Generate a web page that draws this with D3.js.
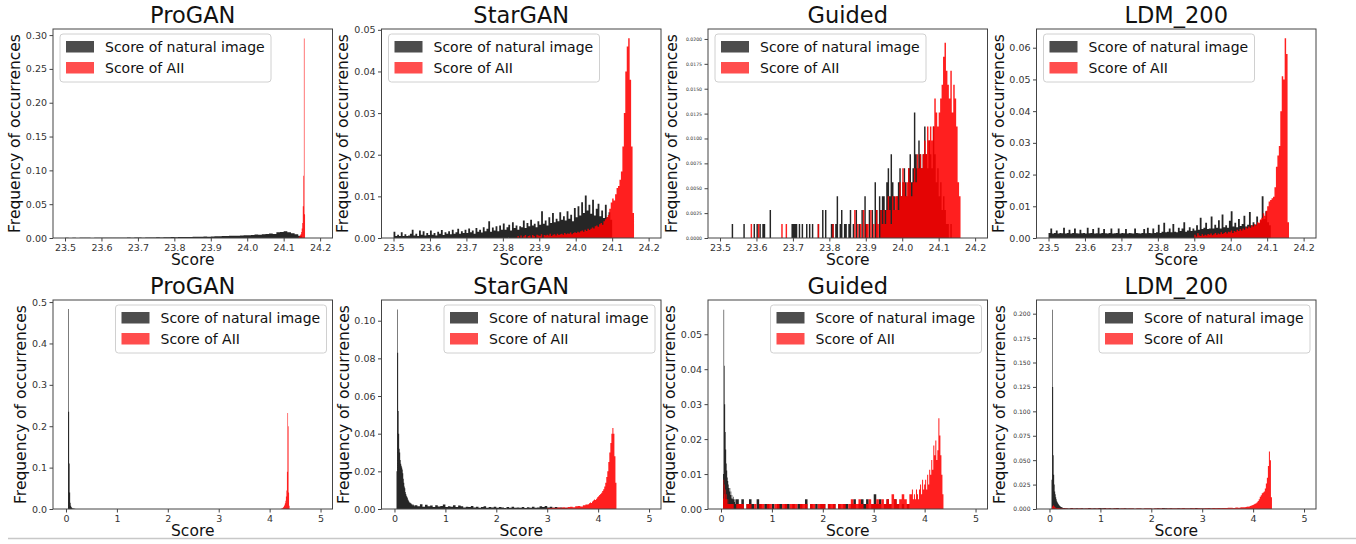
<!DOCTYPE html>
<html><head><meta charset="utf-8">
<script src="https://cdn.jsdelivr.net/npm/d3@7"></script>
<style>body{margin:0;background:#fff}svg{display:block}text{font-family:"DejaVu Sans",sans-serif}</style>
</head><body><svg id="c" width="1356" height="544"></svg>
<script>
// ---------------- DATA ----------------
const panelTitles = ["ProGAN","StarGAN","Guided","LDM_200","ProGAN","StarGAN","Guided","LDM_200"];
const legendLabels = ["Score of natural image","Score of AII"];
const xLabel = "Score";
const yLabel = "Frequency of occurrences";
const topXTicks = [23.5,23.6,23.7,23.8,23.9,24.0,24.1,24.2];
const bottomXTicks = [0,1,2,3,4,5];
const yTicksProganTop = [0,0.05,0.10,0.15,0.20,0.25,0.30];
const yTicksStarganTop = [0,0.01,0.02,0.03,0.04,0.05];
const yTicksGuidedTop = [0,0.0025,0.005,0.0075,0.01,0.0125,0.015,0.0175,0.02];
const yTicksLdmTop = [0,0.01,0.02,0.03,0.04,0.05,0.06];
const yTicksProganBottom = [0,0.1,0.2,0.3,0.4,0.5];
const yTicksStarganBottom = [0,0.02,0.04,0.06,0.08,0.10];
const yTicksGuidedBottom = [0,0.01,0.02,0.03,0.04,0.05];
const yTicksLdmBottom = [0,0.025,0.05,0.075,0.1,0.125,0.15,0.175,0.2];

// histogram bins: frequencies in per-mille (‰) unless stated
const proganTopNatural = [{start:23.50,width:0.01,values:[
0.3,0,0.4,0,0.3,0.2,0.4,0,0.3,0.4,
0.2,0.4,0.3,0.5,0.2,0.4,0.5,0.6,0.4,0.6,
0.7,0.5,0.7,0.9,0.8,1.0,0.9,1.1,1.0,1.3,
1.2,1.5,1.3,1.6,1.5,1.8,1.7,2.0,2.2,2.0,
2.4,2.6,2.5,2.9,2.8,3.2,3.4,3.3,3.8,4.0,
4.2,4.6,5.0,4.8,5.6,6.0,6.6,6.0,8.5,9.0,
10.0,8.5,7.0,5.5,3.5]}];
const proganTopAI = [{start:24.1405,width:0.0015,values:[1,2,3,4,6,9,14,22,47,92,295,35]}];

const starganTopNatural = [{start:23.50,width:0.005,values:[
1.5,0.5,0.8,0.5,1.4,0.5,0.9,0.5,0.6,1.0,
2.0,0.6,1.0,0.5,1.8,0.8,1.6,0.6,1.2,0.7,
1.8,0.8,1.2,0.6,1.5,1.0,1.9,0.7,1.4,1.0,
1.6,0.9,2.0,1.0,1.4,2.2,1.0,1.6,1.2,2.0,
1.2,2.3,1.4,1.8,1.0,2.4,1.5,2.0,1.3,2.6,
1.6,2.2,4.0,1.5,2.5,1.8,2.8,1.6,3.0,2.0,
3.5,2.0,2.6,3.2,1.8,3.8,2.4,3.0,2.0,2.8,
2.6,4.2,2.4,3.6,2.8,4.4,3.0,3.4,2.6,4.0,
3.2,6.4,3.4,4.2,3.0,5.0,3.6,6.0,3.8,4.6,
4.0,6.2,4.4,5.2,4.2,6.4,4.6,5.6,4.0,7.2,
5.0,7.6,5.4,8.6,6.0,10.2,6.6,8.0,5.8,9.2,
5.4,7.0,8.2,5.2,6.6,4.8,8.0,5.0,6.2,4.4]}];
const starganTopAI = [{start:23.84,width:0.004,values:[
0.5,0,0.6,0,0.4,0.7,0,0.5,0.6,0,
0.7,0.5,0,0.8,0.6,0.5,0.9,0,0.7,0.6,
0.8,0.6,1.0,0.5,0.8,0.9,0.6,1.0,0.7,0.9,
1.0,0.8,1.2,0.9,1.1,1.0,1.3,0.9,1.2,1.4,
1.2,1.5,1.3,1.6,1.8,1.5,2.0,1.7,2.2,1.9,
2.2,2.5,2.3,2.8,3.0,2.7,3.3,3.6,3.2,4.0,
4.5,5.0,5.5,7.0,8.5,9.5,9.0,10.5,12.0,12.5,
14,16,22,30,40,46,48,38,22,6]}];

// Guided (top row): raw counts, frequency = count / guidedTopTotal
const guidedTopTotal = 714;
const guidedTopNaturalCounts = [{start:23.52,width:0.004,values:[
0,0,0,1,0,0,0,0,0,0,
0,1,0,0,0,0,0,0,1,0,
1,0,1,0,1,1,0,0,0,2,
0,0,0,0,0,0,0,0,0,0,
0,0,0,0,1,1,1,1,0,1,
0,1,0,0,1,0,1,0,1,0,
0,0,1,0,0,2,0,2,0,0,
0,1,1,0,1,3,0,1,2,0,
1,1,0,1,2,0,1,0,2,0,
1,0,2,0,3,1,0,2,0,2,
0,4,2,0,3,2,3,3,2,4,
5,3,6,4,3,2,3,4,5,3,
4,5,4,3,5,6,4,5,9,6,
5,7,6,5,6,8,6,5,7,6,
5,8,6,4,5,3,4,2,3,2,
1,1,0,1,0,0,0,0,0,0]}];
const guidedTopAICounts = [{start:23.52,width:0.004,values:[
0,0,0,0,0,0,0,0,0,0,
0,0,0,0,0,0,1,0,0,0,
0,1,0,0,0,0,0,0,0,0,
0,0,0,0,0,0,0,1,0,0,
1,0,0,0,0,0,0,0,0,0,
0,0,0,0,0,0,0,0,0,0,
0,0,1,0,0,0,0,0,0,0,
0,0,1,0,0,0,0,0,0,0,
0,0,0,0,0,0,0,2,0,1,
0,1,0,2,0,1,1,0,2,0,
1,0,2,1,0,2,1,2,1,2,
3,2,1,3,2,3,3,2,4,3,
5,4,3,4,5,4,3,4,5,4,
6,5,6,5,6,7,6,8,7,8,
7,8,10,9,8,9,10,11,13,14,
12,11,10,12,9,11,10,8,4,3]}];

const ldmTopNatural = [{start:23.50,width:0.005,values:[
1.6,3.0,1.4,1.6,2.4,1.4,1.6,1.5,3.2,1.4,
1.6,2.6,1.4,1.6,3.0,1.5,1.4,2.6,1.5,1.6,
1.4,3.2,1.5,1.6,2.8,1.4,1.5,3.2,1.4,1.6,
2.8,1.5,1.4,1.6,3.0,1.4,1.5,1.6,3.0,1.4,
1.6,1.5,2.8,1.4,1.6,1.5,1.4,3.0,1.6,1.5,
1.4,1.6,2.8,1.5,3.2,1.6,1.5,3.0,1.6,1.8,
4.2,1.6,2.0,4.8,1.8,2.0,3.0,1.8,4.4,2.0,
1.8,3.2,2.2,3.0,5.0,2.0,2.4,3.4,2.2,3.0,
2.4,4.0,2.6,6.4,2.8,3.2,4.8,2.8,3.0,6.8,
3.0,4.2,3.2,5.6,3.0,7.4,3.4,4.0,3.2,5.4,
8.4,3.6,4.8,3.4,6.0,3.8,4.4,7.0,3.6,4.2,
8.2,4.0,5.0,4.2,6.8,4.6,5.6,13.2,6.0,8.4,
5.0,4.0]}];
const ldmTopAI = [{start:23.90,width:0.004,values:[
1.0,0.5,1.5,0.8,0.6,1.2,0.7,1.0,0.8,1.3,
1.0,1.4,0.9,1.2,1.6,1.0,1.4,1.2,1.8,1.3,
1.6,1.9,1.4,2.0,1.8,2.4,1.6,2.2,2.0,2.6,
2.2,2.8,2.4,3.0,2.6,3.4,3.0,3.6,3.2,4.0,
3.6,4.4,4.0,5.0,4.8,5.8,6.4,7.8,7.0,8.6,
10.0,11.5,12.0,12.5,13.0,16,22.5,26,29,40,
51,50,63,58,5]}];

const proganBottomNatural = [{start:0.03,width:0.01,values:[0,483,235,110,40,15,8,5,3,2,1.5,1,1,0.5,0.5]}];
const proganBottomAI = [{start:4.22,width:0.01,values:[0.5,1,1.5,2.5,3.5,5,7,10,14,20,30,45,90,232,200,40,8]}];

const starganBottomNatural = [
 {start:0.04,width:0.01,values:[20,106,83,52,40,32,30,26,24,23,22,21,19,16,14,12,11,9,8,7,6.5,6,5,4.5,4,3.5,3.5,3,3,2.5,2.5,2,2.5,2,2,1.5]},
 {start:0.40,width:0.05,values:[
 2.0,1.5,2.5,1.2,2.2,1.4,1.8,1.0,2.0,1.3,
 1.6,2.4,1.0,1.5,1.2,2.0,1.0,1.8,1.4,0.8,
 1.2,1.0,1.6,0.8,1.2,0.6,1.0,1.4,0.7,1.0,
 0.8,1.2,0.6,1.0,0.8,0.5,1.0,0.7,1.2,0.6,
 0.8,0.6,1.0,0.5,0.9,0.7,1.2,0.6,0.8,1.4,
 1.0,1.6,0.8,1.2,0.7,1.0,0.6,0.8,0.5,0.6]}];
const starganBottomAI = [
 {start:3.0,width:0.05,values:[0.4,0.5,0.6,0.5,0.8,0.6,0.9,0.7,1.0,1.2,0.9,1.4,1.6,1.3,2.0,2.4]},
 {start:3.8,width:0.02,values:[2.5,3.0,3.5,3.2,4.0,4.5,5.0,4.8,5.5,6.2,6.8,7.5,8.0,8.6,9.5,10.5,12,14,17,20,25,30,35,40,43,40,28,14]}];

const guidedBottomNatural = [
 {start:0.04,width:0.01,values:[10,57,41,30,22,17,13,11,9,8,7,6,5,6,4,5,3,4,3,2.8,3.5,2.8,2,2.8,1.4,2.8]},
 {start:0.30,width:0.05,values:[
 2.8,1.4,2.8,0,1.4,2.8,1.4,0,2.8,1.4,
 0,1.4,1.4,0,1.4,0,1.4,1.4,0,1.4,
 1.4,0,1.4,0,1.4,1.4,0,2.8,0,1.4,
 0,1.4,0,1.4,1.4,0,1.4,0,1.4,0,
 1.4,0,1.4,1.4,0,1.4,2.8,0,1.4,2.8,
 1.4,2.8,0,1.4,4.2,1.4,2.8,0,1.4,2.8,
 1.4,0,2.8,1.4,0,1.4,0,1.4]}];
const guidedBottomAI = [
 {start:0.04,width:0.01,values:[3,8.4,7,4.2,5.6,2.8,4.2,2.8,1.4,2.8,1.4]},
 {start:0.15,width:0.05,values:[
 1.4,1.4,0,1.4,1.4,1.4,0,1.4,1.4,0,
 1.4,0,1.4,1.4,0,1.4,1.4,0,1.4,1.4,
 0,1.4,1.4,0,1.4,1.4,1.4,0,1.4,1.4,
 1.4,0,1.4,1.4,0,1.4,1.4,1.4,0,1.4,
 1.4,1.4,0,1.4,1.4,1.4,0,1.4,2.8,1.4,
 1.4,2.8,1.4,0,1.4,2.8,1.4,1.4,2.8,1.4,
 2.8,1.4,2.8,1.4,4.2,2.8,1.4,2.8,4.2,2.8,1.4,4.2]},
 {start:3.75,width:0.02,values:[5.6,2.8,4.2,2.8,5.6,4.2,2.8,5.6,7,4.2,8.4,5.6,7,8.4,5.6,9.8,7,11.2,9.8,14,11.2,18.2,15.4,19.6,14,16.8,26,21,15.4,9.8,4.2]}];

const ldmBottomNatural = [
 {start:0.04,width:0.01,values:[30,204,125,55,35,25,18,15,12,10,8,7,6,5,4,3.5,3,2.5,2,2,1.5,1.5]},
 {start:0.26,width:0.05,values:[
 1.0,0.8,0.6,0.9,0.5,0.7,0.6,0.8,0.5,0.6,
 1.0,0.6,0.8,0.5,0.9,0.7,1.0,0.6,0.8,0.5,
 0.8,1.0,0.6,0.5,0.7,0.4,0.6,0.5,0.3,0.5,
 0.4,0.3,0.6,0.4,0.5,0.3,0.6,0.8,0.5,0.9,
 0.7,0.5,0.8,0.6,0.4,0.7,0.5,0.8,0.6,0.4,
 0.7,0.5,0.9,0.6,0.4,0.6,0.5,0.8,0.4,0.6,
 0.5,0.4,0.6,0.3]}];
const ldmBottomAI = [
 {start:0.05,width:0.01,values:[2,3,4,3,2.5,2,1.5,1.2,1,0.8]},
 {start:0.15,width:0.05,values:[
 1.0,0.6,0.4,0.5,0.3,0.6,0.4,0.3,0.5,0.4,
 0.3,0.5,0.4,0.6,0.3,0.4,0.5,0.3,0.6,0.4,
 0.5,0.3,0.4,0.6,0.3,0.5,0.4,0.3,0.5,0.4,
 0.3,0.5,0.4,0.3,0.6,0.4,0.5,0.3,0.4,0.6,
 0.4,0.5,0.3,0.6,0.5,0.4,0.6,0.5,0.4,0.7,
 0.5,0.6,0.4,0.7,0.5,0.8,0.6,0.5,0.8,0.7,
 0.6,0.9,0.7,1.0,0.8,1.1,0.9,1.2,1.3,1.1,1.5,1.4,1.7,1.9]},
 {start:3.85,width:0.02,values:[2.0,2.3,2.6,2.4,3.0,3.3,3.8,4.2,4.8,5.5,6.0,7.0,8.2,10,12.5,14,16,17,18,21,26,32,44,59,50,12]}];

// ---------------- LAYOUT ----------------
const PER_MILLE = 0.001;
const W = 279.5, H = 209;
const colLeft = [53, 381.5, 708, 1036.5];
const rowTop = [29, 300];
const topXDomain = [23.467, 24.234];
const bottomXDomain = [-0.255, 5.235];

const panels = [
 {title:0,row:0,col:0,xd:topXDomain,xt:topXTicks,xf:".1f",yMax:0.309,yt:yTicksProganTop,yf:".2f",yfs:9.5,yl:33.5,leg:"left",
  nat:proganTopNatural,ai:proganTopAI,k1:PER_MILLE,k2:PER_MILLE},
 {title:1,row:0,col:1,xd:topXDomain,xt:topXTicks,xf:".1f",yMax:0.0502,yt:yTicksStarganTop,yf:".2f",yfs:9.5,yl:34,leg:"left",
  nat:starganTopNatural,ai:starganTopAI,k1:PER_MILLE,k2:PER_MILLE},
 {title:2,row:0,col:2,xd:topXDomain,xt:topXTicks,xf:".1f",yMax:0.021,yt:yTicksGuidedTop,yf:".4f",yfs:4.6,yl:31.5,leg:"left",
  nat:guidedTopNaturalCounts,ai:guidedTopAICounts,k1:1/guidedTopTotal,k2:1/guidedTopTotal},
 {title:3,row:0,col:3,xd:topXDomain,xt:topXTicks,xf:".1f",yMax:0.0659,yt:yTicksLdmTop,yf:".2f",yfs:9.5,yl:33,leg:"left",
  nat:ldmTopNatural,ai:ldmTopAI,k1:PER_MILLE,k2:PER_MILLE},
 {title:4,row:1,col:0,xd:bottomXDomain,xt:bottomXTicks,xf:"d",yMax:0.505,yt:yTicksProganBottom,yf:".1f",yfs:9.5,yl:27.5,leg:"right",
  nat:proganBottomNatural,ai:proganBottomAI,k1:PER_MILLE,k2:PER_MILLE},
 {title:5,row:1,col:1,xd:bottomXDomain,xt:bottomXTicks,xf:"d",yMax:0.111,yt:yTicksStarganBottom,yf:".2f",yfs:9.5,yl:33,leg:"right",
  nat:starganBottomNatural,ai:starganBottomAI,k1:PER_MILLE,k2:PER_MILLE},
 {title:6,row:1,col:2,xd:bottomXDomain,xt:bottomXTicks,xf:"d",yMax:0.0598,yt:yTicksGuidedBottom,yf:".2f",yfs:9.5,yl:33.5,leg:"right",
  nat:guidedBottomNatural,ai:guidedBottomAI,k1:PER_MILLE,k2:PER_MILLE},
 {title:7,row:1,col:3,xd:bottomXDomain,xt:bottomXTicks,xf:"d",yMax:0.214,yt:yTicksLdmBottom,yf:".3f",yfs:6,yl:32,leg:"right",
  nat:ldmBottomNatural,ai:ldmBottomAI,k1:PER_MILLE,k2:PER_MILLE}
];

function toBins(segments, k){
  const out = [];
  segments.forEach(s => s.values.forEach((v,i) => {
    if (v > 0) out.push({x0: s.start + i*s.width, x1: s.start + (i+1)*s.width, y: v*k});
  }));
  return out;
}

const svg = d3.select("#c");
svg.append("rect").attr("width",1356).attr("height",544).attr("fill","#fff");

panels.forEach(p => {
  const left = colLeft[p.col], top = rowTop[p.row];
  const x = d3.scaleLinear().domain(p.xd).range([left, left+W]);
  const y = d3.scaleLinear().domain([0, p.yMax]).range([top+H, top]);
  const g = svg.append("g");

  // each histogram series is drawn as one path (union of its bars) so that
  // adjacent bars merge without anti-aliasing seams
  [[p.nat,p.k1,"#000",0.85],[p.ai,p.k2,"#ff0000",0.88]].forEach(([seg,k,col,op]) => {
    const bins = toBins(seg,k);
    const path = d3.path();
    bins.forEach(d => {
      const xa = x(d.x0), wa = Math.max(0.6, x(d.x1)-x(d.x0));
      path.rect(xa, y(d.y), wa, y(0)-y(d.y));
    });
    g.append("path").datum(bins).attr("d", path.toString())
      .attr("fill", col).attr("fill-opacity", op);
  });

  // axes
  const ax = g.append("g").attr("transform",`translate(0,${top+H})`)
    .call(d3.axisBottom(x).tickValues(p.xt).tickFormat(d3.format(p.xf)).tickSize(3.5).tickPadding(3));
  const ay = g.append("g").attr("transform",`translate(${left},0)`)
    .call(d3.axisLeft(y).tickValues(p.yt).tickFormat(d3.format(p.yf)).tickSize(3.5).tickPadding(2.5));
  [ax,ay].forEach(a => {
    a.select(".domain").remove();
    a.selectAll(".tick line").attr("stroke","#444");
    a.selectAll(".tick text").attr("fill","#333").style("font-family","'DejaVu Sans',sans-serif");
  });
  ax.selectAll(".tick text").style("font-size","9.5px");
  ay.selectAll(".tick text").style("font-size", p.yfs+"px");

  g.append("rect").attr("x",left).attr("y",top).attr("width",W).attr("height",H)
    .attr("fill","none").attr("stroke","#444").attr("stroke-width",1);

  // title & labels
  g.append("text").attr("x",left+W/2).attr("y",top-6).attr("text-anchor","middle")
    .style("font-size","22.5px").attr("fill","#111").text(panelTitles[p.title]);
  g.append("text").attr("x",left+W/2).attr("y",top+H+27).attr("text-anchor","middle")
    .style("font-size","15.5px").attr("fill","#111").text(xLabel);
  g.append("text").attr("transform",`translate(${left-p.yl},${top+H/2}) rotate(-90)`)
    .attr("text-anchor","middle").style("font-size","15.5px").attr("fill","#111").text(yLabel);

  // legend
  const lw = 211, lh = 48;
  const lx = p.leg === "left" ? left+7 : left+W-6-lw;
  const ly = top + 5;
  const lg = g.append("g");
  lg.append("rect").attr("x",lx).attr("y",ly).attr("width",lw).attr("height",lh).attr("rx",3)
    .attr("fill","#fff").attr("fill-opacity",0.8).attr("stroke","#d0d0d0");
  ["#4d4d4d","#ff4d4d"].forEach((c,i) => {
    lg.append("rect").attr("x",lx+6).attr("y",ly+7+i*21).attr("width",28).attr("height",11.5).attr("fill",c);
    lg.append("text").attr("x",lx+45).attr("y",ly+18+i*21).style("font-size","14px").attr("fill","#111").text(legendLabels[i]);
  });
});

svg.append("line").attr("x1",8).attr("x2",1356).attr("y1",538.5).attr("y2",538.5).attr("stroke","#c8c8c8").attr("stroke-width",1.5);
</script></body></html>
